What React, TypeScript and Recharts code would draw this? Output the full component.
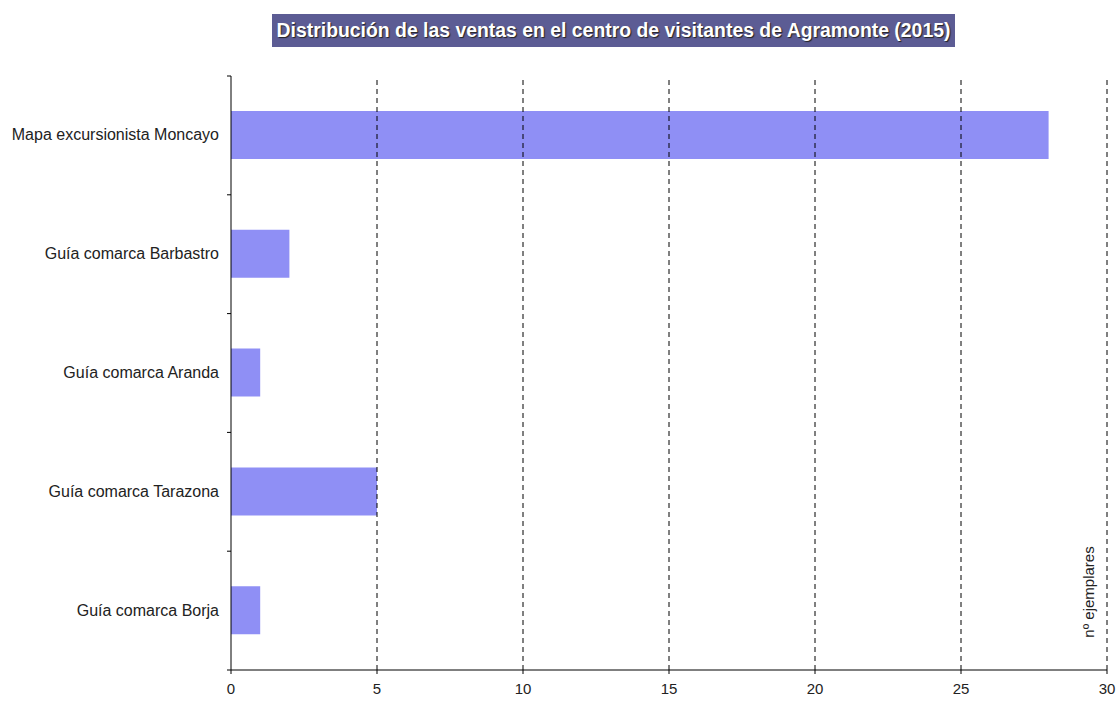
import { BarChart, Bar, XAxis, YAxis, ReferenceLine, Cell } from 'recharts'

const categories = [
  'Mapa excursionista Moncayo',
  'Guía comarca Barbastro',
  'Guía comarca Aranda',
  'Guía comarca Tarazona',
  'Guía comarca Borja',
]
const ventas = [28, 2, 1, 5, 1]
const xTicks = [0, 5, 10, 15, 20, 25, 30]
const gridValues = [5, 10, 15, 20, 25, 30]

const data = categories.map((name, i) => ({ name, ventas: ventas[i] }))

const font = '"Liberation Sans", Arial, sans-serif'
const CHART_H = 702
const TOP = 76
const X_AXIS_H = 32
const bandHalf = (CHART_H - TOP - X_AXIS_H) / categories.length / 2

// category label plus a small tick at the band boundaries (like the original)
// eslint-disable-next-line @typescript-eslint/no-explicit-any
function CatTick({ x, y, payload, index }: any) {
  const half = payload?.offset > 0 ? payload.offset : bandHalf
  return (
    <g>
      {index === 0 && <line x1={x - 4} x2={x} y1={y - half} y2={y - half} stroke="#000" />}
      <line x1={x - 4} x2={x} y1={y + half} y2={y + half} stroke="#000" />
      <text x={x - 12} y={y} dy={5} textAnchor="end" fontSize={16} fill="#222" fontFamily={font}>
        {payload.value}
      </text>
    </g>
  )
}

export default function App() {
  return (
    <div style={{ position: 'absolute', left: 0, top: 0, width: 1119, height: 702, background: '#fff', fontFamily: font }}>
      <div
        style={{
          position: 'absolute',
          left: 272,
          top: 14,
          width: 683,
          height: 33,
          background: '#5c5c94',
          color: '#fff',
          fontWeight: 'bold',
          fontSize: 19.4,
          lineHeight: '33px',
          textAlign: 'center',
          textShadow: '1px 1px 1px #222',
          whiteSpace: 'nowrap',
        }}
      >
        Distribución de las ventas en el centro de visitantes de Agramonte (2015)
      </div>
      <BarChart
        width={1119}
        height={CHART_H}
        data={data}
        layout="vertical"
        margin={{ top: TOP, right: 12, bottom: 0, left: 0 }}
      >
        <XAxis
          type="number"
          domain={[0, 30]}
          ticks={xTicks}
          interval={0}
          axisLine={{ stroke: '#000' }}
          tickLine={{ stroke: '#000' }}
          tickSize={4}
          tickMargin={9}
          tick={{ fontSize: 15, fill: '#222', fontFamily: font }}
          height={X_AXIS_H}
        />
        <YAxis
          type="category"
          dataKey="name"
          width={231}
          interval={0}
          axisLine={{ stroke: '#000' }}
          tickLine={false}
          tickSize={0}
          tickMargin={0}
          tick={<CatTick />}
        />
        {gridValues.map((v) => (
          <ReferenceLine key={v} x={v} stroke="#000" strokeDasharray="5 4" />
        ))}
        <Bar dataKey="ventas" barSize={48} isAnimationActive={false}>
          {data.map((_, i) => (
            <Cell key={i} fill="#8f8ff5" />
          ))}
        </Bar>
      </BarChart>
      <div
        style={{
          position: 'absolute',
          left: 1088,
          top: 592,
          transform: 'translate(-50%, -50%) rotate(-90deg)',
          fontSize: 15,
          color: '#222',
          whiteSpace: 'nowrap',
        }}
      >
        nº ejemplares
      </div>
    </div>
  )
}
